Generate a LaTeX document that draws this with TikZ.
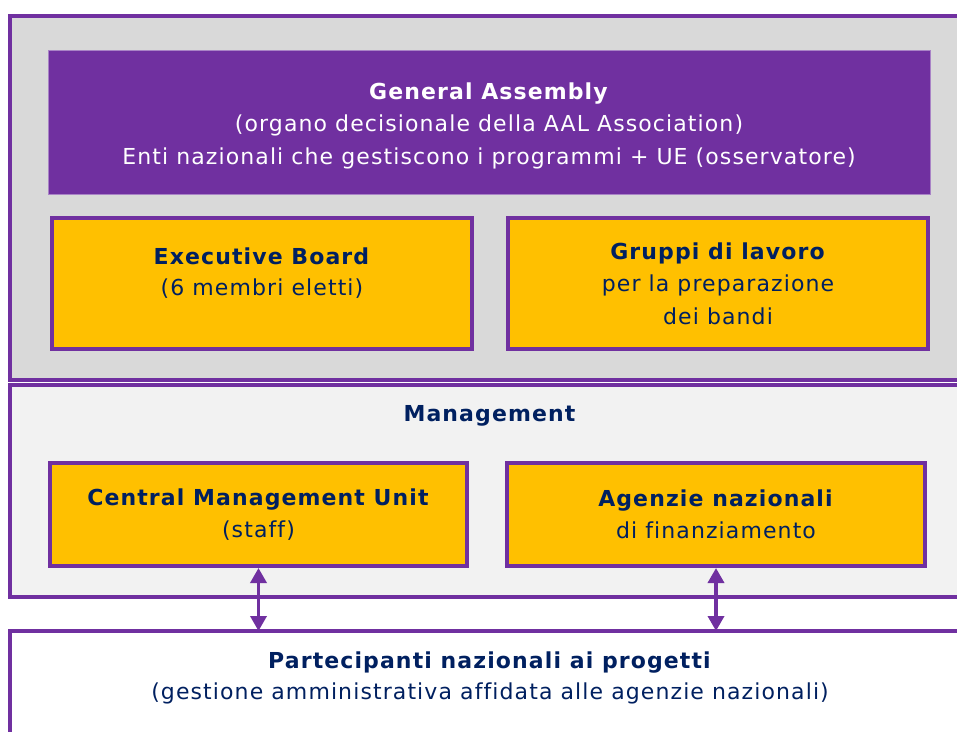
\documentclass[tikz,border=0pt]{standalone}
\usepackage{fontspec}
\setmainfont[LetterSpace=5,Ligatures=CommonOff]{DejaVu Sans}
\usetikzlibrary{arrows.meta}
\usetikzlibrary{positioning}

\definecolor{aalpurple}{HTML}{7030A0}
\definecolor{aalgold}{HTML}{FFC000}
\definecolor{aalnavy}{HTML}{002060}
\definecolor{aalgray}{HTML}{D9D9D9}
\definecolor{aallight}{HTML}{F2F2F2}

\tikzset{
    panel/.style={draw=aalpurple, line width=4pt},
    gabox/.style={fill=aalpurple, draw=aalpurple!60, line width=0.6pt, text=white,
        minimum width=882pt, minimum height=144pt, align=center,
        font=\fontsize{22}{32.5}\selectfont},
    goldbox/.style={fill=aalgold, draw=aalpurple, line width=4pt, text=aalnavy,
        minimum width=420pt, minimum height=131pt, align=center,
        font=\fontsize{22}{32.5}\selectfont},
    navytxt/.style={text=aalnavy, align=center, font=\fontsize{22}{31}\selectfont},
    link/.style={draw=aalpurple, line width=3.5pt,
        {Triangle[length=15pt,width=16pt]}-{Triangle[length=15pt,width=16pt]}}
}

\begin{document}
\begin{tikzpicture}[x=1pt, y=-1pt]
    \useasboundingbox (0,0) rectangle (957,731);
    \clip (0,0) rectangle (957,731);
    % the three bands
    \draw[panel, fill=aalgray] (10,16) rectangle (975,380);
    \draw[panel, fill=aallight] (10,385) rectangle (975,597);
    \draw[panel, fill=white] (10,631) rectangle (975,760);

    \node[gabox] (ga) at (489,122) {};
    \node[align=center, text=white, font=\fontsize{22}{32.5}\selectfont] (gatxt) at ([yshift=-3.5pt]ga.center)
        {\textbf{General Assembly}\\(organo decisionale della AAL Association)\\Enti nazionali che gestiscono i programmi + UE (osservatore)};
    \node[goldbox] (exec) at (262,283.5) {};
    \node[navytxt] (exectxt) at ([yshift=10pt]exec.center)
        {\textbf{Executive Board}\\(6 membri eletti)};
    \node[goldbox] (gruppi) [right=32pt of exec]
        {\textbf{Gruppi di lavoro}\\per la preparazione\\dei bandi};

    \node[navytxt] (mgmt) at (490,416) {\textbf{Management}};
    \node[goldbox, minimum width=417pt, minimum height=103pt] (cmu) at (258.5,514.5)
        {\textbf{Central Management Unit}\\(staff)};
    \node[goldbox, minimum width=418pt, minimum height=103pt] (agenzie) at (716,514.5)
        {\textbf{Agenzie nazionali}\\di finanziamento};

    \node[navytxt] (partecipanti) at (490,678)
        {\textbf{Partecipanti nazionali ai progetti}\\(gestione amministrativa affidata alle agenzie nazionali)};
    \coordinate (bandtop) at (490,631);

    \draw[link] (cmu.south) -- (cmu.south |- bandtop);
    \draw[link] (agenzie.south) -- (agenzie.south |- bandtop);
\end{tikzpicture}
\end{document}
